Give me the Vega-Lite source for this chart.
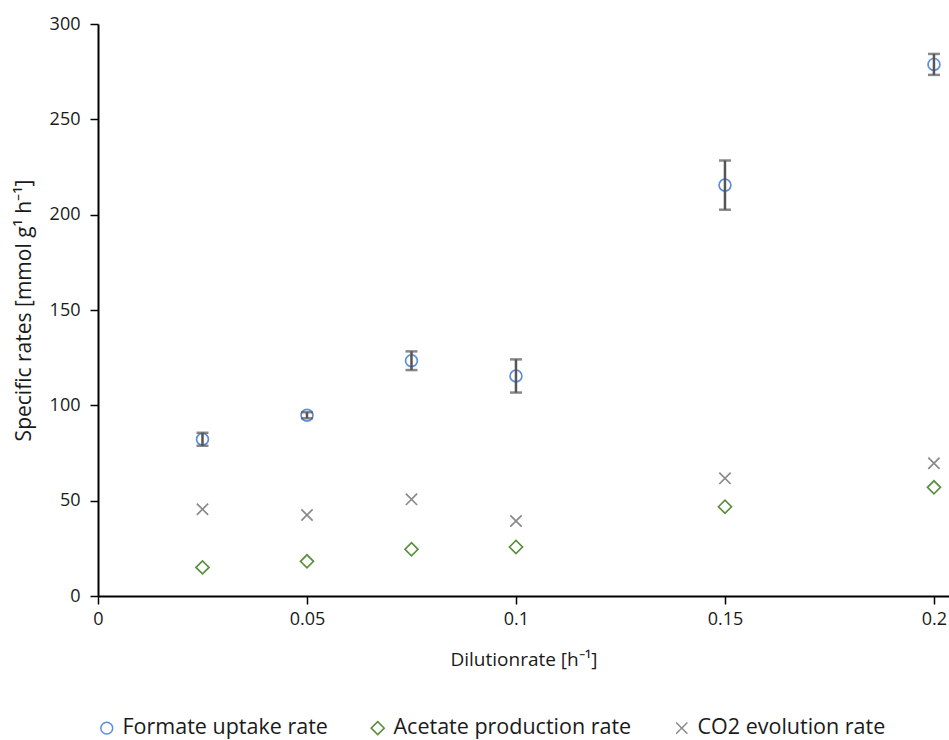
{
  "$schema": "https://vega.github.io/schema/vega-lite/v6.json",
  "width": 851,
  "height": 572,
  "autosize": "none",
  "padding": {"left": 98, "top": 24, "right": 0, "bottom": 144},
  "background": "white",
  "config": {
    "view": {"stroke": null},
    "font": "Open Sans",
    "axis": {
      "grid": false,
      "domainColor": "#000000",
      "domainWidth": 2,
      "tickColor": "#000000",
      "tickWidth": 1.5,
      "tickSize": 8,
      "labelFont": "Open Sans",
      "labelFontSize": 18,
      "labelColor": "#1a1a1a",
      "titleFont": "Open Sans",
      "titleFontSize": 18,
      "titleFontWeight": "normal",
      "titleColor": "#1a1a1a"
    },
    "legend": {
      "labelFont": "Open Sans",
      "labelFontSize": 21.5,
      "labelColor": "#1a1a1a",
      "labelLimit": 0
    }
  },
  "data": {
    "values": [
      {"D": 0.025, "series": "Formate uptake rate", "rate": 82.2, "err": 3.4},
      {"D": 0.05, "series": "Formate uptake rate", "rate": 94.8, "err": 1.6},
      {"D": 0.075, "series": "Formate uptake rate", "rate": 123.4, "err": 4.9},
      {"D": 0.1, "series": "Formate uptake rate", "rate": 115.4, "err": 8.7},
      {"D": 0.15, "series": "Formate uptake rate", "rate": 215.5, "err": 12.9},
      {"D": 0.2, "series": "Formate uptake rate", "rate": 278.8, "err": 5.5},
      {"D": 0.025, "series": "Acetate production rate", "rate": 15.0},
      {"D": 0.05, "series": "Acetate production rate", "rate": 18.2},
      {"D": 0.075, "series": "Acetate production rate", "rate": 24.5},
      {"D": 0.1, "series": "Acetate production rate", "rate": 25.7},
      {"D": 0.15, "series": "Acetate production rate", "rate": 46.8},
      {"D": 0.2, "series": "Acetate production rate", "rate": 57.0},
      {"D": 0.025, "series": "CO2 evolution rate", "rate": 45.5},
      {"D": 0.05, "series": "CO2 evolution rate", "rate": 42.5},
      {"D": 0.075, "series": "CO2 evolution rate", "rate": 50.7},
      {"D": 0.1, "series": "CO2 evolution rate", "rate": 39.3},
      {"D": 0.15, "series": "CO2 evolution rate", "rate": 61.7},
      {"D": 0.2, "series": "CO2 evolution rate", "rate": 69.6}
    ]
  },
  "layer": [
    {
      "mark": {"type": "point", "filled": false, "strokeWidth": 1.7, "opacity": 1},
      "encoding": {
        "x": {
          "field": "D", "type": "quantitative",
          "title": "Dilutionrate [h⁻¹]",
          "scale": {"domain": [0, 0.2036], "nice": false, "zero": true},
          "axis": {"values": [0, 0.05, 0.1, 0.15, 0.2], "format": "~g", "labelPadding": 6, "titlePadding": 22, "titleFontSize": 19, "labelFlush": false}
        },
        "y": {
          "field": "rate", "type": "quantitative",
          "title": "Specific rates [mmol g¹ h⁻¹]",
          "scale": {"domain": [0, 300], "nice": false},
          "axis": {"values": [0, 50, 100, 150, 200, 250, 300], "titleFontSize": 21, "labelPadding": 10, "titlePadding": 15}
        },
        "shape": {
          "field": "series", "type": "nominal",
          "scale": {
            "domain": ["Formate uptake rate", "Acetate production rate", "CO2 evolution rate"],
            "range": ["circle", "diamond", "M-0.8,-0.8L0.8,0.8M-0.8,0.8L0.8,-0.8"]
          }
        },
        "color": {
          "field": "series", "type": "nominal",
          "scale": {
            "domain": ["Formate uptake rate", "Acetate production rate", "CO2 evolution rate"],
            "range": ["#5f8ed8", "#5a8f3c", "#8a8a8a"]
          },
          "legend": {
            "orient": "none", "legendX": -2, "legendY": 693, "direction": "horizontal",
            "title": null, "columnPadding": 39, "labelOffset": 5, "symbolStrokeWidth": 1.5
          }
        },
        "size": {
          "field": "series", "type": "nominal",
          "scale": {
            "domain": ["Formate uptake rate", "Acetate production rate", "CO2 evolution rate"],
            "range": [140, 200, 150]
          }
        }
      }
    },
    {
      "transform": [{"filter": "isValid(datum.err)"}],
      "mark": {"type": "errorbar", "ticks": {"size": 12, "thickness": 2.5, "color": "#555555"}, "rule": {"strokeWidth": 2.5, "color": "#555555"}},
      "encoding": {
        "x": {"field": "D", "type": "quantitative", "title": "Dilutionrate [h⁻¹]"},
        "y": {"field": "rate", "type": "quantitative", "title": "Specific rates [mmol g¹ h⁻¹]"},
        "yError": {"field": "err"}
      }
    }
  ]
}
